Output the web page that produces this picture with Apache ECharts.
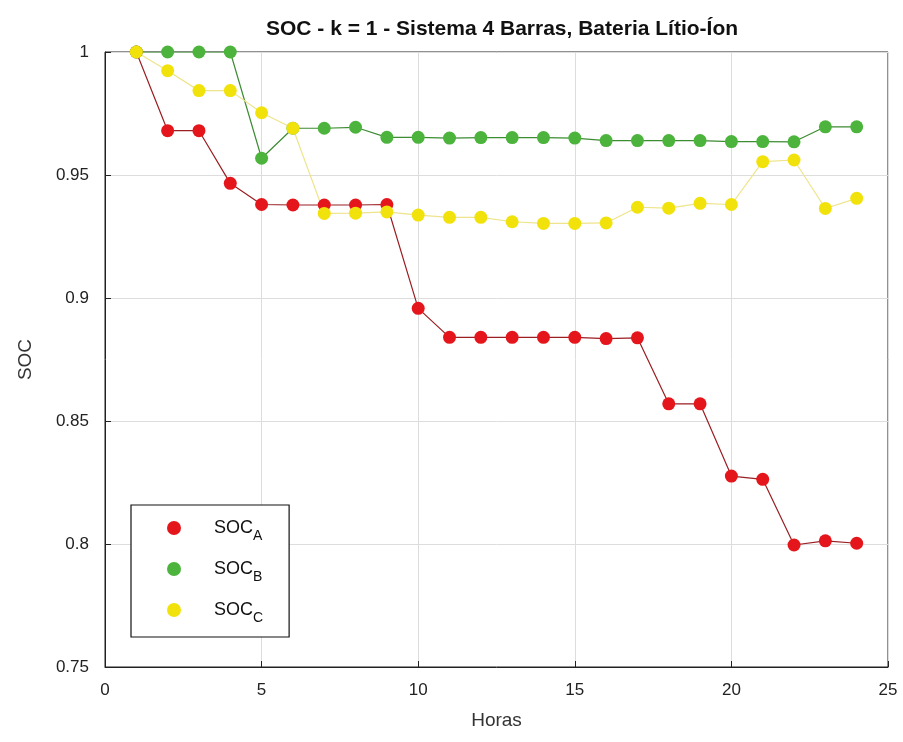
<!DOCTYPE html>
<html lang="pt">
<head>
    <meta charset="UTF-8">
    <title>SOC - k = 1</title>
    <script src="https://cdn.jsdelivr.net/npm/echarts/dist/echarts.min.js"></script>
    <style>
        html, body { margin: 0; height: 100%; background: #fff; }
        #main { width: 903px; height: 742px; }
    </style>
</head>
<body>
    <div id="main"></div>
    <script>
        // horas 1..24
        var horas = [1,2,3,4,5,6,7,8,9,10,11,12,13,14,15,16,17,18,19,20,21,22,23,24];
        var socA = [1.0, 0.968, 0.968, 0.9466, 0.938, 0.9378, 0.9378, 0.9378, 0.938, 0.8958, 0.884, 0.884,
                    0.884, 0.884, 0.884, 0.8835, 0.8838, 0.857, 0.857, 0.8276, 0.8263, 0.7996, 0.8013, 0.8003];
        var socB = [1.0, 1.0, 1.0, 1.0, 0.9568, 0.969, 0.969, 0.9694, 0.9653, 0.9653, 0.965, 0.9652,
                    0.9652, 0.9652, 0.965, 0.964, 0.964, 0.964, 0.964, 0.9636, 0.9636, 0.9635, 0.9696, 0.9696];
        var socC = [1.0, 0.9924, 0.9843, 0.9843, 0.9753, 0.969, 0.9344, 0.9345, 0.935, 0.9337, 0.9328, 0.9328,
                    0.931, 0.9303, 0.9303, 0.9305, 0.9369, 0.9365, 0.9385, 0.938, 0.9554, 0.9561, 0.9364, 0.9405];

        function pares(ys) {
            return horas.map(function (h, i) { return [h, ys[i]]; });
        }

        var chart = echarts.init(document.getElementById('main'));

        function serie(nome, dados, cor, corLinha) {
            return {
                name: nome,
                type: 'line',
                data: pares(dados),
                symbol: 'circle',
                symbolSize: 13,
                itemStyle: { color: cor },
                lineStyle: { color: corLinha, width: 1.2 },
                animation: false
            };
        }

        chart.setOption({
            backgroundColor: '#fff',
            title: {
                text: 'SOC - k = 1 - Sistema 4 Barras, Bateria Lítio-Íon',
                left: 497, textAlign: 'center', top: 14,
                textStyle: { fontFamily: 'Liberation Sans', fontSize: 21, fontWeight: 'bold', color: '#111' }
            },
            grid: { left: 105, right: 15, top: 52, bottom: 75, show: true, borderColor: '#222', borderWidth: 1 },
            legend: {
                orient: 'vertical',
                left: 131, top: 505,
                padding: [14, 26, 12, 36],
                itemGap: 17,
                itemWidth: 14, itemHeight: 14,
                icon: 'circle',
                borderColor: '#111', borderWidth: 1.2,
                backgroundColor: '#fff',
                data: ['A', 'B', 'C'],
                formatter: function (n) { return '{a|SOC}{s|' + n + '}'; },
                textStyle: {
                    padding: [0, 0, 0, 28],
                    rich: {
                        a: { fontFamily: 'Liberation Sans', fontSize: 18, color: '#111', lineHeight: 26 },
                        s: { fontFamily: 'Liberation Sans', fontSize: 14, color: '#111', padding: [16, 0, 0, 0] }
                    }
                }
            },
            xAxis: {
                type: 'value', min: 0, max: 25, interval: 5,
                name: 'Horas', nameLocation: 'middle', nameGap: 44,
                nameTextStyle: { fontFamily: 'Liberation Sans', fontSize: 19, color: '#333' },
                axisLine: { lineStyle: { color: '#222' } },
                axisTick: { inside: true, length: 6, lineStyle: { color: '#222' } },
                axisLabel: { fontFamily: 'Liberation Sans', fontSize: 17, color: '#222', margin: 15 },
                splitLine: { show: true, lineStyle: { color: '#ddd' } }
            },
            yAxis: {
                type: 'value', min: 0.75, max: 1, interval: 0.05,
                name: 'SOC', nameLocation: 'middle', nameGap: 70,
                nameTextStyle: { fontFamily: 'Liberation Sans', fontSize: 19, color: '#333' },
                axisLine: { show: true, lineStyle: { color: '#222' } },
                axisTick: { show: true, inside: true, length: 6, lineStyle: { color: '#222' } },
                axisLabel: { fontFamily: 'Liberation Sans', fontSize: 17, color: '#222', margin: 16 },
                splitLine: { show: true, lineStyle: { color: '#ddd' } }
            },
            series: [
                serie('A', socA, '#e4161c', '#9a1e22'),
                serie('B', socB, '#4cb33c', '#3c8c32'),
                serie('C', socC, '#f2e20c', '#eee48a')
            ]
        });
    </script>
</body>
</html>
